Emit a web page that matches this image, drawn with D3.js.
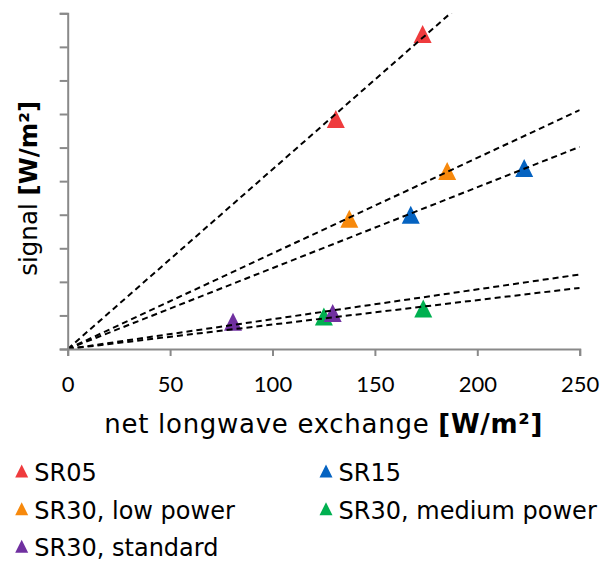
<!DOCTYPE html>
<html>
<head>
<meta charset="utf-8">
<script src="https://cdn.jsdelivr.net/npm/d3@7"></script>
<style>
  html, body { margin: 0; padding: 0; background: #fff; }
  svg { display: block; }
</style>
</head>
<body>
<svg id="chart" width="614" height="561"></svg>
<script>
// ---- data ----
const seriesNames = ["SR05", "SR15", "SR30, low power", "SR30, medium power", "SR30, standard"];
const seriesColors = ["#ef3b3d", "#0563c1", "#f7890c", "#00b050", "#7030a0"];
const xValues = [
  [130.9, 173.3],
  [167.5, 222.9],
  [137.5, 185.3],
  [125.1, 173.6],
  [80.7, 129.4]
];
const yValues = [
  [6.85, 9.38],
  [4.00, 5.39],
  [3.88, 5.30],
  [0.97, 1.21],
  [0.81, 1.07]
];
// slopes of the dashed trend lines through the origin
const trendSlopes = [0.0535, 0.02409, 0.02847, 0.00728, 0.00888];
const xTicks = [0, 50, 100, 150, 200, 250];
const yTicks = [0, 1, 2, 3, 4, 5, 6, 7, 8, 9, 10];
const xDomain = [0, 250];
const yDomain = [0, 10];
const legendOrder = [0, 1, 2, 3, 4];

// ---- layout ----
const svg = d3.select("#chart");
const plot = { left: 67.7, right: 579.7, top: 13.3, bottom: 349 };
const axisColor = "#898989";

const x = d3.scaleLinear().domain(xDomain).range([plot.left, plot.right]);
const y = d3.scaleLinear().domain(yDomain).range([plot.bottom, plot.top]);

// clip
svg.append("defs").append("clipPath").attr("id", "clip")
  .append("rect")
  .attr("x", plot.left).attr("y", plot.top)
  .attr("width", plot.right - plot.left).attr("height", plot.bottom - plot.top);

function triPath(w, h) {
  return `M0,${-h/2}L${w/2},${h/2}L${-w/2},${h/2}Z`;
}

// markers
const markers = svg.append("g");
xValues.forEach((xs, i) => {
  xs.forEach((xv, j) => {
    markers.append("path")
      .attr("d", triPath(18, 18))
      .attr("transform", `translate(${x(xv)},${y(yValues[i][j])})`)
      .attr("fill", seriesColors[i]);
  });
});

// trend lines (drawn on top of markers)
const lines = svg.append("g").attr("clip-path", "url(#clip)");
trendSlopes.forEach((s, i) => {
  const pts = [[0, 0], [xDomain[1], s * xDomain[1]]];
  lines.append("path")
    .attr("d", d3.line().x(d => x(d[0])).y(d => y(d[1]))(pts))
    .attr("fill", "none")
    .attr("stroke", "#000")
    .attr("stroke-width", 2)
    .attr("stroke-dasharray", "6,4");
});

// axes
const xAxis = svg.append("g")
  .attr("transform", `translate(0,${plot.bottom})`)
  .call(d3.axisBottom(x).tickValues(xTicks).tickSize(7).tickSizeOuter(7).tickPadding(8));
const yAxis = svg.append("g")
  .attr("transform", `translate(${plot.left},0)`)
  .call(d3.axisLeft(y).tickValues(yTicks).tickSize(8).tickSizeOuter(8).tickFormat(""));

[xAxis, yAxis].forEach(g => {
  g.select(".domain").attr("stroke", axisColor).attr("stroke-width", 2);
  g.selectAll(".tick line").attr("stroke", axisColor).attr("stroke-width", 2);
});
xAxis.selectAll(".tick text")
  .attr("fill", "#000")
  .attr("font-family", "Lato, 'Open Sans', sans-serif")
  .attr("font-size", 22)
  .attr("dy", null)
  .attr("y", 391.7 - plot.bottom);

// axis titles
const titleFont = "'DejaVu Sans', Verdana, sans-serif";
const xt = svg.append("text")
  .attr("x", 323.3).attr("y", 433)
  .attr("text-anchor", "middle")
  .attr("font-family", titleFont).attr("font-size", 26).attr("fill", "#000");
xt.append("tspan").text("net longwave exchange ");
xt.append("tspan").attr("font-weight", "bold").text("[W/m²]");
xt.attr("textLength", 438).attr("lengthAdjust", "spacing");

const yt = svg.append("text")
  .attr("transform", `translate(36.7,188.3) rotate(-90)`)
  .attr("text-anchor", "middle")
  .attr("font-family", titleFont).attr("font-size", 24.5).attr("fill", "#000");
yt.append("tspan").text("signal ");
yt.append("tspan").attr("font-weight", "bold").text("[W/m²]");

// legend
const legCols = [21.7, 326];
const legTextOffset = 12.6;
const legRows = [480.7, 518.5, 556];
const legend = svg.append("g");
legendOrder.forEach((si, k) => {
  const col = k % 2, row = Math.floor(k / 2);
  const lx = legCols[col], ly = legRows[row];
  legend.append("path")
    .attr("d", triPath(13, 13))
    .attr("transform", `translate(${lx},${ly - 9.7})`)
    .attr("fill", seriesColors[si]);
  legend.append("text")
    .attr("x", lx + legTextOffset).attr("y", ly)
    .attr("font-family", "'DejaVu Sans', Verdana, sans-serif")
    .attr("font-size", 24)
    .attr("fill", "#000")
    .text(seriesNames[si]);
});
</script>
</body>
</html>
